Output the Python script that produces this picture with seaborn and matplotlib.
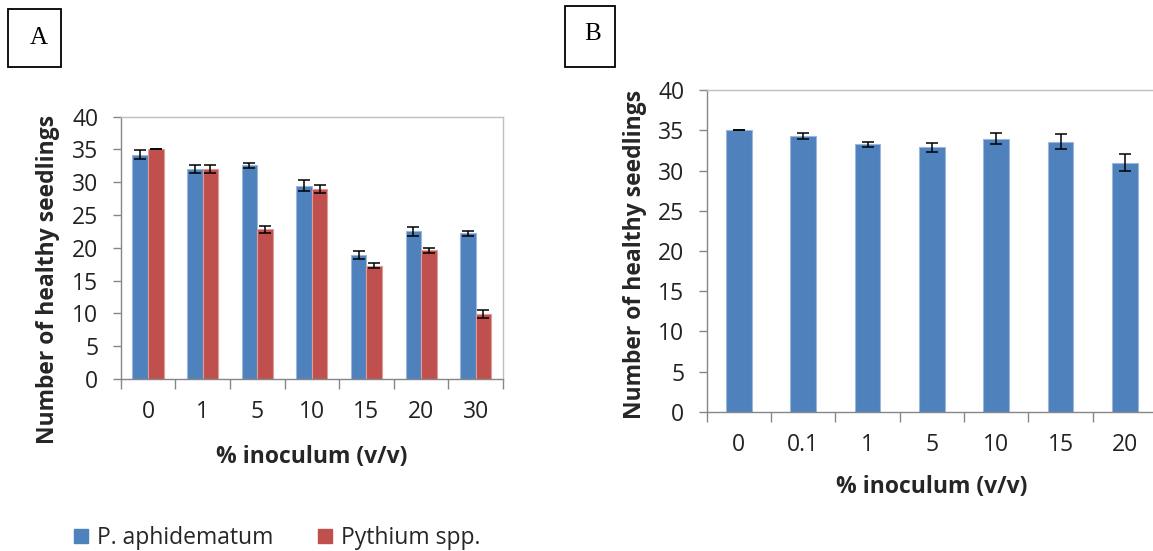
import numpy as np
import pandas as pd
import matplotlib.pyplot as plt
import seaborn as sns
from matplotlib.patches import Patch, Rectangle

# Valores (média e erro padrão)
doses_a = ['0', '1', '5', '10', '15', '20', '30']
aph_mean = [34.2, 32.0, 32.6, 29.5, 18.9, 22.5, 22.2]
aph_err = [0.7, 0.6, 0.4, 0.9, 0.6, 0.7, 0.4]
pyth_mean = [35.0, 32.0, 22.8, 29.0, 17.3, 19.6, 9.9]
pyth_err = [0.0, 0.6, 0.55, 0.6, 0.35, 0.35, 0.65]

doses_b = ['0', '0.1', '1', '5', '10', '15', '20']
b_mean = [35.0, 34.3, 33.3, 32.9, 34.0, 33.6, 31.0]
b_err = [0.0, 0.35, 0.3, 0.6, 0.65, 0.95, 1.05]

series = ['P. aphidematum', 'Pythium spp.']
colors = ['#4F81BD', '#C0504D']
edges = ['#9BB7DB', '#DE9C9A']

sns.set_theme(style='white')
plt.rcParams['font.family'] = ['Open Sans', 'DejaVu Sans']

df_a = pd.DataFrame({
    'dose': doses_a * 2,
    'value': aph_mean + pyth_mean,
    'err': aph_err + pyth_err,
    'series': [series[0]] * 7 + [series[1]] * 7,
})
df_b = pd.DataFrame({'dose': doses_b, 'value': b_mean, 'err': b_err})

W, H = 1153, 551
fs = 16.5
fig = plt.figure(figsize=(W / 100, H / 100), dpi=100)
ax_a = fig.add_axes([120.7 / W, (H - 379) / H, 382.3 / W, 262.3 / H])
ax_b = fig.add_axes([706.7 / W, (H - 411.7) / H, 450.3 / W, 321.4 / H])

# Painel A
sns.barplot(data=df_a, x='dose', y='value', hue='series', order=doses_a,
            hue_order=series, palette=colors, width=0.57, errorbar=None,
            saturation=1, legend=False, ax=ax_a)
for i, p in enumerate(ax_a.patches):
    p.set_edgecolor(edges[i // 7])
    p.set_linewidth(0.8)
    err = df_a['err'].iloc[i]
    ax_a.errorbar(p.get_x() + p.get_width() / 2, p.get_height(), yerr=err,
                  fmt='none', ecolor='black', elinewidth=1.1, capsize=4.3,
                  capthick=1.1)

# Painel B
sns.barplot(data=df_b, x='dose', y='value', order=doses_b, color=colors[0],
            width=0.4, errorbar=None, saturation=1, ax=ax_b)
for i, p in enumerate(ax_b.patches):
    p.set_edgecolor(edges[0])
    p.set_linewidth(0.8)
    ax_b.errorbar(p.get_x() + p.get_width() / 2, p.get_height(),
                  yerr=df_b['err'].iloc[i], fmt='none', ecolor='black',
                  elinewidth=1.1, capsize=4.3, capthick=1.1)

for ax, labels, xl_y, yl_x, yl_y in [(ax_a, doses_a, -0.298, -0.19, 0.378),
                                     (ax_b, doses_b, -0.233, -0.159, 0.488)]:
    ax.set_xlim(-0.5, 6.5)
    ax.set_ylim(0, 40)
    ax.set_yticks(range(0, 41, 5))
    ax.set_xticks(np.arange(-0.5, 7, 1))
    ax.set_xticklabels([])
    ax.set_xticks(range(7), minor=True)
    ax.set_xticklabels(labels, minor=True)
    ax.tick_params(axis='x', which='major', length=7, width=1, color='#868686',
                   direction='out', bottom=True)
    ax.tick_params(axis='x', which='minor', length=0, pad=15, labelsize=fs,
                   labelcolor='#222222')
    ax.tick_params(axis='y', length=6, width=1, color='#868686', direction='out',
                   left=True, pad=10, labelsize=fs, labelcolor='#222222')
    for s in ['left', 'bottom']:
        ax.spines[s].set_color('#868686')
        ax.spines[s].set_linewidth(1)
    for s in ['top', 'right']:
        ax.spines[s].set_color('#BFBFBF')
        ax.spines[s].set_linewidth(1)
    ax.set_xlabel('% inoculum (v/v)', fontsize=fs, fontweight='bold')
    ax.set_ylabel('Number of healthy seedlings', fontsize=fs, fontweight='bold')
    ax.xaxis.label.set_va('center')
    ax.yaxis.label.set_va('center')
    ax.xaxis.set_label_coords(0.5, xl_y)
    ax.yaxis.set_label_coords(yl_x, yl_y)

# Caixas com as letras dos painéis
for (x0, y0, x1, y1), letter, cx, cy in [((8.3, 9.3, 61, 66.7), 'A', 39, 38),
                                          ((565, 5.7, 615, 66.7), 'B', 593, 34)]:
    fig.patches.append(Rectangle((x0 / W, 1 - y1 / H), (x1 - x0) / W, (y1 - y0) / H,
                                 transform=fig.transFigure, fill=False,
                                 edgecolor='black', linewidth=1.3))
    fig.text(cx / W, 1 - cy / H, letter, family='Liberation Serif', fontsize=18,
             ha='center', va='center', color='black')

handles = [Patch(facecolor=c, edgecolor=c) for c in colors]
fig.legend(handles, series, loc='center left', bbox_to_anchor=(74 / W, 1 - 538 / H),
           ncol=2, frameon=False, fontsize=fs, handlelength=0.6, handleheight=0.6,
           handletextpad=0.4, columnspacing=1.95, borderpad=0, borderaxespad=0)

fig.savefig('out.png', dpi=100)
